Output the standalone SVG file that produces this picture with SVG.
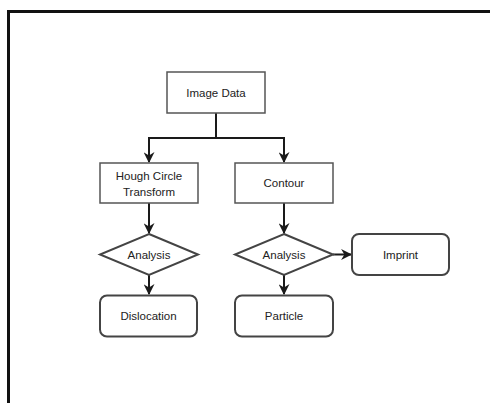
<svg xmlns="http://www.w3.org/2000/svg" width="490" height="403" viewBox="0 0 490 403">
<defs>
<style>
.box{fill:#fff;stroke:#555;stroke-width:1.5}
.rbox{fill:#fff;stroke:#444;stroke-width:2}
.dia{fill:#fff;stroke:#444;stroke-width:2}
.lbl{font-family:"Liberation Sans",Arial,sans-serif;font-size:11.5px;fill:#222;text-anchor:middle}
.con{fill:none;stroke:#1a1a1a;stroke-width:2;marker-end:url(#arr)}
.frame{fill:none;stroke:#111;stroke-width:3}
</style>
<marker id="arr" viewBox="0 0 10 10" refX="9" refY="5" markerWidth="5.5" markerHeight="5.5" orient="auto" markerUnits="strokeWidth">
<path d="M0,0 L10,5 L0,10 L3,5 z" fill="#1a1a1a"/>
</marker>
</defs>
<rect width="490" height="403" fill="#fff"/>
<path class="frame" d="M8.5,403 V11.5 H490"/>
<g id="connectors">
<path class="con" d="M216,113 V138 H149 V162"/>
<path class="con" d="M216,138 H284 V162"/>
<path class="con" d="M149,203 V233"/>
<path class="con" d="M284,203 V233"/>
<path class="con" d="M149,275 V294"/>
<path class="con" d="M284,275 V294"/>
<path class="con" d="M333,254.5 H351"/>
</g>
<g id="image-data">
<rect class="box" x="167" y="72" width="98" height="41"/>
<text class="lbl" x="216" y="96.5">Image Data</text>
</g>
<g id="hough">
<rect class="box" x="100" y="163" width="98" height="40"/>
<text class="lbl" x="149" y="180">Hough Circle</text>
<text class="lbl" x="149" y="195.5">Transform</text>
</g>
<g id="contour">
<rect class="box" x="235" y="163" width="98" height="40"/>
<text class="lbl" x="284" y="187">Contour</text>
</g>
<g id="analysis-left">
<polygon class="dia" points="149,234 198,254.5 149,275 100,254.5"/>
<text class="lbl" x="149" y="258.5">Analysis</text>
</g>
<g id="analysis-right">
<polygon class="dia" points="284,234 333,254.5 284,275 235,254.5"/>
<text class="lbl" x="284" y="258.5">Analysis</text>
</g>
<g id="imprint">
<rect class="rbox" x="352" y="234" width="97" height="41" rx="7"/>
<text class="lbl" x="400.5" y="258.5">Imprint</text>
</g>
<g id="dislocation">
<rect class="rbox" x="100" y="295.5" width="97" height="41" rx="7"/>
<text class="lbl" x="148.5" y="320">Dislocation</text>
</g>
<g id="particle">
<rect class="rbox" x="235" y="295.5" width="98" height="41" rx="7"/>
<text class="lbl" x="284" y="320">Particle</text>
</g>
</svg>
